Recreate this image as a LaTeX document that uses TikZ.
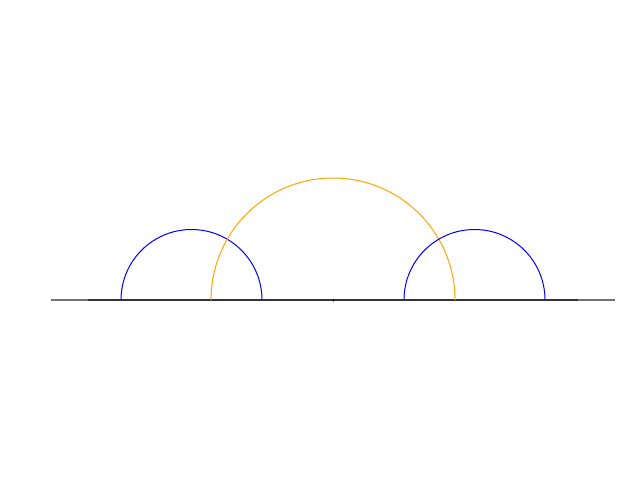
\documentclass[tikz,border=0pt]{standalone}
\begin{document}
\begin{tikzpicture}[x=1pt,y=-1pt,
  axisline/.style={draw=black,draw opacity=0.55,line width=1.2pt},
  bluearc/.style={draw={rgb,255:red,0;green,0;blue,255},line width=1pt},
  orangearc/.style={draw={rgb,255:red,255;green,165;blue,0},line width=1pt}]
\useasboundingbox (0,0) rectangle (640,480);
\coordinate (L1) at (51,300);
\coordinate (R1) at (615,300);
\coordinate (L2) at (88,300);
\coordinate (R2) at (578,300);
\draw[axisline] (L1) -- (R1);
\draw[axisline] (L2) -- (R2);
\draw[axisline,line width=0.6pt] (333,298.5) -- (333,301.5);
\draw[bluearc] (121,300) arc[start angle=180,end angle=0,x radius=70.5,y radius=-70.5];
\draw[orangearc] (211,300) arc[start angle=180,end angle=0,x radius=122,y radius=-122];
\draw[bluearc] (404,300) arc[start angle=180,end angle=0,x radius=70.5,y radius=-70.5];
\end{tikzpicture}
\end{document}
